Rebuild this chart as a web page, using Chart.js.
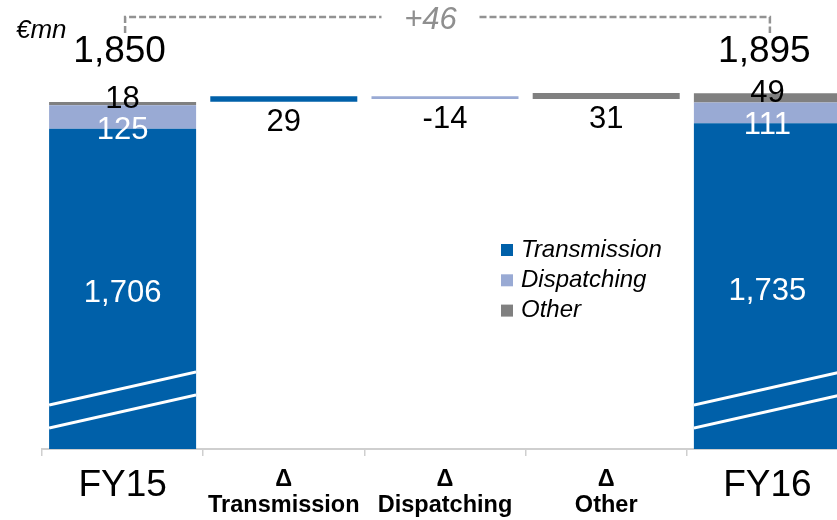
<!DOCTYPE html>
<html><head><meta charset="utf-8">
<script src="https://cdn.jsdelivr.net/npm/chart.js@4.4.1/dist/chart.umd.min.js"></script>
<style>html,body{margin:0;padding:0;overflow:hidden;background:#fff;width:837px;height:520px}
#wrap{width:860px;height:520px;position:relative}</style></head>
<body><div id="wrap"><canvas id="c" width="860" height="520"></canvas></div>
<script>
const categories = ['FY15', ['Δ','Transmission'], ['Δ','Dispatching'], ['Δ','Other'], 'FY16'];
const seriesNames = ['Transmission','Dispatching','Other'];
const seriesColors = ['#0060A9','#99AAD4','#808080'];
const fy15Values = [1706, 125, 18];
const fy16Values = [1735, 111, 49];
const deltaValues = [29, -14, 31];
const totals = [1850, 1895];
const totalChangeLabel = '+46';
const unitLabel = '€mn';

const fam = '"Liberation Sans", Arial, sans-serif';
const fmt = v => String(v).replace(/\B(?=(\d{3})+(?!\d))/g, ',');

let c15 = 0, c16 = 0, run = totals[0];
const datasets = seriesNames.map((name, s) => {
  const data = [null, null, null, null, null];
  data[0] = [c15, c15 + fy15Values[s]]; c15 += fy15Values[s];
  data[s + 1] = [run, run + deltaValues[s]]; run += deltaValues[s];
  data[4] = [c16, c16 + fy16Values[s]]; c16 += fy16Values[s];
  return {label: name, data, backgroundColor: seriesColors[s], grouped: false,
          barPercentage: 0.912, categoryPercentage: 1, borderWidth: 0};
});

const overlay = {
  id: 'overlay',
  afterDatasetsDraw(chart) {
    const ctx = chart.ctx;
    const y = chart.scales.y;
    ctx.save();
    // axis-break marks on the full bars
    [0, 4].forEach(i => {
      const el = chart.getDatasetMeta(0).data[i];
      const l = el.x - el.width / 2, r = el.x + el.width / 2, b = el.base;
      ctx.save();
      ctx.beginPath(); ctx.rect(l, chart.chartArea.top, el.width, b - chart.chartArea.top); ctx.clip();
      ctx.strokeStyle = '#fff'; ctx.lineWidth = 3;
      [44, 21].forEach(off => {
        ctx.beginPath(); ctx.moveTo(l, b - off); ctx.lineTo(r, b - off - el.width * 0.2245); ctx.stroke();
      });
      ctx.restore();
    });
    // value labels
    ctx.textAlign = 'center'; ctx.textBaseline = 'middle';
    ctx.font = `31px ${fam}`;
    seriesNames.forEach((_, s) => {
      const meta = chart.getDatasetMeta(s);
      [[0, fy15Values[s]], [4, fy16Values[s]]].forEach(([i, v]) => {
        const el = meta.data[i];
        const top = Math.min(el.y, el.base), bot = Math.max(el.y, el.base);
        let ty, color;
        if (s === 0) { ty = (top + bot) / 2 + 5; color = '#fff'; }
        else if (s === 1) { ty = bot + 2; color = '#fff'; }
        else { ty = (top + bot) / 2 - 4; color = '#000'; }
        ctx.fillStyle = color; ctx.fillText(fmt(v), el.x, ty);
      });
      const el = meta.data[s + 1];
      ctx.fillStyle = '#000';
      ctx.fillText(fmt(deltaValues[s]), el.x, Math.max(el.y, el.base) + 21);
    });
    // totals
    const m0 = chart.getDatasetMeta(0);
    const topY = y.getPixelForValue(Math.max(...totals)) - 41;
    ctx.font = `37px ${fam}`; ctx.fillStyle = '#000';
    [0, 4].forEach((i, k) => ctx.fillText(fmt(totals[k]), m0.data[i].x - 3, topY));
    // bracket
    const x1 = m0.data[0].x + 2.5, x2 = m0.data[4].x + 2.5;
    const ly = 17, lb = 33;
    const tx = (x1 + x2) / 2 - 17;
    ctx.strokeStyle = '#929292'; ctx.lineWidth = 2.5; ctx.setLineDash([7, 3]);
    ctx.beginPath(); ctx.moveTo(x1, lb); ctx.lineTo(x1, ly); ctx.lineTo(tx - 49, ly); ctx.stroke();
    ctx.beginPath(); ctx.moveTo(tx + 49, ly); ctx.lineTo(x2, ly); ctx.lineTo(x2, lb); ctx.stroke();
    ctx.setLineDash([]);
    ctx.font = `italic 31px ${fam}`; ctx.fillStyle = '#8f8f8f';
    ctx.fillText(totalChangeLabel, tx, 20);
    // unit
    ctx.textAlign = 'left'; ctx.fillStyle = '#000';
    ctx.font = `italic 26px ${fam}`;
    ctx.fillText(unitLabel, 16, 31);
    // legend
    ctx.font = `italic 24px ${fam}`;
    chart.data.datasets.forEach((ds, k) => {
      const cy = 250 + k * 30.3;
      ctx.fillStyle = ds.backgroundColor; ctx.fillRect(501, cy - 6, 12, 12);
      ctx.fillStyle = '#000'; ctx.fillText(ds.label, 521, cy);
    });
    ctx.restore();
  }
};

Chart.defaults.font.family = fam;
new Chart(document.getElementById('c'), {
  type: 'bar',
  data: {labels: categories, datasets},
  options: {
    responsive: false, animation: false, events: [],
    layout: {padding: {left: 42, right: 12, top: 36, bottom: 0}},
    plugins: {legend: {display: false}, tooltip: {enabled: false}},
    scales: {
      y: {display: false, min: 0, max: 2200},
      x: {
        offset: true,
        grid: {display: true, drawOnChartArea: false, drawTicks: true, tickLength: 7, color: '#cfcfcf', lineWidth: 1.5, offset: true},
        border: {display: true, color: '#cfcfcf', width: 2},
        ticks: {
          color: '#000', padding: 11, maxRotation: 0, minRotation: 0, autoSkip: false,
          font: ctx => (ctx.index === 0 || ctx.index === 4)
            ? {family: fam, size: 37, lineHeight: 1.0}
            : {family: fam, size: 23.5, weight: 'bold', lineHeight: 1.1}
        },
        afterFit: s => { s.height = 71; }
      }
    }
  },
  plugins: [overlay]
});
</script></body></html>
